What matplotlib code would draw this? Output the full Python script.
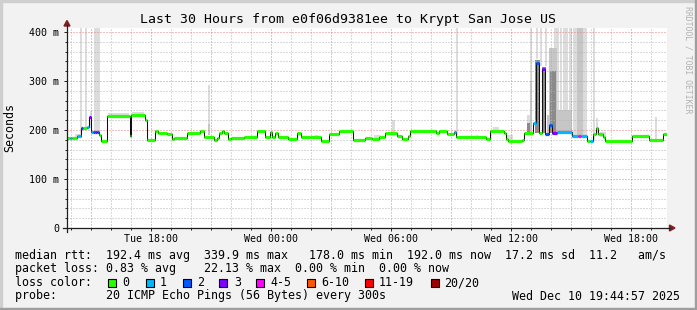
import matplotlib
matplotlib.use("Agg")
import matplotlib.pyplot as plt
from matplotlib.patches import Rectangle, Polygon
from matplotlib.lines import Line2D
import numpy as np

plt.rcParams["font.family"] = ["DejaVu Sans Mono"]

# -----------------------------
# 1. Data (time = hours since Tue 13:48, left edge of the 30 h window)
# -----------------------------
med_start = [0.00, 0.15, 0.25, 0.50, 0.70, 0.80, 1.00, 1.10, 1.20, 1.30,
             1.40, 1.50, 1.60, 1.70, 2.00, 3.15, 3.20, 3.90, 4.00, 4.40,
             4.55, 5.00, 5.25, 5.35, 6.00, 6.65, 6.85, 7.35, 7.50, 7.60,
             7.75, 7.85, 8.05, 8.20, 8.85, 9.50, 9.90, 10.15, 10.25, 10.40,
             10.55, 11.05, 11.50, 11.70, 12.15, 12.70, 13.10, 13.60, 14.30, 14.90,
             15.25, 15.60, 15.90, 16.50, 16.75, 17.05, 17.15, 18.45, 18.60, 19.00,
             19.35, 19.45, 20.95, 21.15, 21.85, 21.95, 22.05, 22.75, 22.85, 23.30,
             23.45, 23.60, 23.75, 23.90, 24.10, 24.25, 24.50, 25.25, 25.55, 25.70,
             26.00, 26.15, 26.30, 26.45, 26.55, 26.80, 26.90, 28.25, 29.10, 29.80]
med_ms = [183, 183, 183, 188, 203, 203, 207, 227, 196, 196,
          196, 196, 190, 178, 228, 188, 230, 220, 180, 198,
          193, 192, 182, 184, 194, 198, 186, 180, 183, 193,
          198, 193, 182, 183, 186, 198, 186, 196, 185, 193,
          186, 181, 193, 185, 186, 178, 192, 198, 180, 184,
          182, 186, 193, 188, 182, 187, 198, 193, 198, 192,
          196, 186, 182, 198, 194, 181, 178, 180, 193, 214,
          336, 193, 325, 192, 210, 193, 195, 188, 188, 188,
          178, 178, 192, 205, 192, 185, 178, 188, 180, 192]
med_loss = [0, 1, 0, 1, 2, 0, 1, 3, 1, 2,
            3, 2, 0, 0, 0, 0, 0, 0, 0, 0,
            0, 0, 0, 0, 0, 0, 0, 0, 0, 0,
            0, 0, 0, 0, 0, 0, 0, 0, 0, 0,
            0, 0, 0, 0, 0, 0, 0, 0, 0, 0,
            0, 0, 0, 0, 0, 0, 0, 0, 0, 0,
            1, 0, 0, 0, 0, 0, 0, 0, 0, 1,
            2, 0, 3, 2, 2, 3, 1, 1, 4, 1,
            0, 1, 0, 0, 0, 0, 0, 0, 0, 0]

# smoke: spread of the 20 pings per interval (density 1 = few pings .. 4 = many)
smoke_t0 = [0.40, 0.65, 0.90, 1.15, 1.35, 2.05, 3.25, 7.05, 7.05, 12.40,
            15.35, 16.25, 19.45, 20.45, 21.30, 21.95, 23.00, 23.00, 23.15, 23.15,
            23.40, 23.45, 23.65, 23.75, 23.90, 24.00, 24.10, 24.15, 24.35, 24.50,
            24.65, 24.80, 25.10, 24.50, 25.30, 25.50, 26.30, 26.45, 26.65, 29.40]
smoke_t1 = [0.65, 0.75, 1.00, 1.25, 1.65, 3.10, 3.85, 7.15, 7.15, 12.55,
            15.65, 16.40, 19.55, 20.55, 21.60, 22.30, 23.15, 23.15, 23.25, 23.25,
            23.65, 23.55, 23.75, 23.95, 24.00, 24.10, 24.50, 24.45, 24.50, 24.60,
            24.75, 25.05, 25.25, 25.25, 26.00, 25.80, 26.40, 26.55, 26.95, 29.50]
smoke_lo = [183, 183, 200, 205, 196, 228, 230, 190, 190, 186,
            182, 188, 190, 186, 198, 178, 193, 215, 193, 193,
            193, 345, 330, 193, 330, 193, 193, 193, 367, 195,
            195, 195, 195, 195, 188, 188, 178, 192, 185, 180]
smoke_hi = [192, 408, 408, 238, 408, 235, 236, 292, 212, 190,
            190, 220, 408, 190, 206, 190, 215, 230, 408, 300,
            342, 408, 408, 328, 408, 230, 367, 320, 408, 408,
            408, 408, 408, 241, 408, 408, 408, 224, 195, 227]
smoke_level = [1, 1, 1, 1, 1, 1, 1, 1, 2, 1,
               1, 1, 1, 1, 1, 1, 3, 1, 1, 2,
               3, 1, 1, 3, 1, 2, 2, 3, 1, 1,
               1, 1, 1, 2, 1, 2, 1, 1, 1, 1]

xtick_hours = [4.2, 10.2, 16.2, 22.2, 28.2]
xtick_labels = ["Tue 18:00", "Wed 00:00", "Wed 06:00", "Wed 12:00", "Wed 18:00"]
ytick_ms = [0, 100, 200, 300, 400]
ytick_labels = ["0", "100 m", "200 m", "300 m", "400 m"]

rtt_stats = [192.4, 339.9, 178.0, 192.0, 17.2, 11.2]
loss_stats = [0.83, 22.13, 0.00, 0.00]
loss_labels = ["0", "1", "2", "3", "4-5", "6-10", "11-19", "20/20"]
loss_colors = ["#26ff00", "#00b8ff", "#0059ff", "#7e00ff",
               "#ff00ff", "#ff5500", "#ff0000", "#a00000"]
loss_bucket_max = [0, 1, 2, 3, 5, 10, 19, 20]

smoke_shades = {1: "#dcdcdc", 2: "#c6c6c6", 3: "#8a8a8a", 4: "#5e5e5e"}

# -----------------------------
# 2. Figure / axes (rrdtool layout, pixel based)
# -----------------------------
W, H = 697, 310
fig = plt.figure(figsize=(W / 100, H / 100), dpi=100)
fig.patch.set_facecolor("#f2f2f2")


def px(x, y):
    return x / W, 1 - y / H


ax = fig.add_axes([67 / W, 1 - 228 / H, 600 / W, 200 / H])
ax.set_facecolor("white")
ax.set_xlim(0, 30)
ax.set_ylim(0, 408)

# grid (rrdtool: dotted, grid on top of the smoke)
minor_x = [h for h in np.arange(0.2, 30, 1.0) if abs((h - 1.2) % 3) > 1e-6]
major_x = np.arange(1.2, 30, 3.0)
minor_y = [v for v in range(20, 408, 20) if v % 100]
major_y = [100, 200, 300, 400]
dot = (0, (1, 2))
ax.vlines(minor_x, 0, 408, colors="#b4b4b4", lw=0.72, linestyles=dot, zorder=2)
ax.hlines(minor_y, 0, 30, colors="#b4b4b4", lw=0.72, linestyles=dot, zorder=2)
ax.vlines(major_x, 0, 408, colors="#e58080", lw=0.72, linestyles=dot, zorder=2)
ax.hlines(major_y, 0, 30, colors="#e58080", lw=0.72, linestyles=dot, zorder=2)

# smoke
for t0, t1, lo, hi, lev in zip(smoke_t0, smoke_t1, smoke_lo, smoke_hi, smoke_level):
    ax.bar(t0, hi - lo, width=t1 - t0, bottom=lo, align="edge",
           color=smoke_shades[lev], lw=0, zorder=1)


def loss_color(n):
    for c, m in zip(loss_colors, loss_bucket_max):
        if n <= m:
            return c
    return loss_colors[-1]


# median line: black steps + loss coloured band
t_edges = med_start + [30.0]
ax.step(t_edges, med_ms + [med_ms[-1]], where="post", color="#101010", lw=0.75, zorder=4)
for i, v in enumerate(med_ms):
    ax.hlines(v, t_edges[i], t_edges[i + 1], colors=loss_color(med_loss[i]),
              lw=2.3, zorder=5)

# axes chrome
for s in ["top", "right", "left", "bottom"]:
    ax.spines[s].set_visible(False)
axis_col = "#1f1f1f"
fig.add_artist(Line2D([px(67, 0)[0]] * 2, [px(0, 232)[1], px(0, 25)[1]],
                      color=axis_col, lw=0.9, transform=fig.transFigure))
fig.add_artist(Line2D([px(63, 0)[0], px(670, 0)[0]], [px(0, 228)[1]] * 2,
                      color=axis_col, lw=0.9, transform=fig.transFigure))
fig.add_artist(Polygon([px(67, 20.5), px(64, 26), px(70, 26)], closed=True,
                       color="#7f1f1f", transform=fig.transFigure))
fig.add_artist(Polygon([px(675, 228), px(669.5, 225), px(669.5, 231)], closed=True,
                       color="#7f1f1f", transform=fig.transFigure))

ax.set_xticks(xtick_hours)
ax.set_xticklabels(xtick_labels)
ax.set_xticks(np.arange(0.2, 30, 1.0), minor=True)
ax.set_yticks(ytick_ms)
ax.set_yticklabels(ytick_labels)
ax.set_yticks(range(20, 408, 20), minor=True)
ax.tick_params(axis="both", which="major", labelsize=7.2, color=axis_col,
               length=2.2, width=0.7, direction="out")
ax.tick_params(axis="both", which="minor", color=axis_col, length=1.4,
               width=0.7, direction="out")
ax.tick_params(axis="x", pad=2.0)
ax.tick_params(axis="y", pad=3.5)

# -----------------------------
# 3. Texts
# -----------------------------
fig.text(*px(348, 19), "Last 30 Hours from e0f06d9381ee to Krypt San Jose US",
         ha="center", va="center", fontsize=9.5)
fig.text(*px(10, 127), "Seconds", rotation=90, ha="center", va="center", fontsize=8.4)
fig.text(*px(688, 60), "RRDTOOL / TOBI OETIKER", rotation=-90, ha="center",
         va="center", fontsize=5.9, color="#b2b2b2")

leg_fs = 8.4
line1 = ("median rtt:  %.1f ms avg  %.1f ms max   %.1f ms min  %.1f ms now  "
         "%.1f ms sd  %.1f   am/s" % tuple(rtt_stats))
line2 = "packet loss: %.2f %% avg    %.2f %% max  %.2f %% min  %.2f %% now" % tuple(loss_stats)
fig.text(*px(15.4, 255), line1, ha="left", va="center", fontsize=leg_fs)
fig.text(*px(15.4, 268.5), line2, ha="left", va="center", fontsize=leg_fs)
fig.text(*px(15.4, 282.5), "loss color:", ha="left", va="center", fontsize=leg_fs)
fig.text(*px(15.4, 296), "probe:       20 ICMP Echo Pings (56 Bytes) every 300s",
         ha="left", va="center", fontsize=leg_fs)
fig.text(*px(680.5, 296), "Wed Dec 10 19:44:57 2025", ha="right", va="center",
         fontsize=leg_fs)

box_x = [108, 146, 183, 219, 256, 307, 365, 431]
label_x = [122, 160, 197, 234, 270, 321, 379, 444]
for bx, lx, lab, col in zip(box_x, label_x, loss_labels, loss_colors):
    fig.add_artist(Rectangle(px(bx, 286.5), 8 / W, 8 / H, facecolor=col,
                             edgecolor="black", lw=0.8, transform=fig.transFigure))
    fig.text(*px(lx, 282.5), lab, ha="left", va="center", fontsize=leg_fs)

# image frame (rrdtool shade A / shade B)
fig.add_artist(Rectangle((0, 1 - 2 / H), 1, 2 / H, color="#cfcfcf", transform=fig.transFigure))
fig.add_artist(Rectangle((0, 0), 2 / W, 1, color="#cfcfcf", transform=fig.transFigure))
fig.add_artist(Rectangle((0, 0), 1, 2 / H, color="#9e9e9e", transform=fig.transFigure))
fig.add_artist(Rectangle((1 - 2 / W, 0), 2 / W, 1, color="#9e9e9e", transform=fig.transFigure))

fig.savefig("out.png", dpi=100, facecolor=fig.get_facecolor())
print("saved out.png")
